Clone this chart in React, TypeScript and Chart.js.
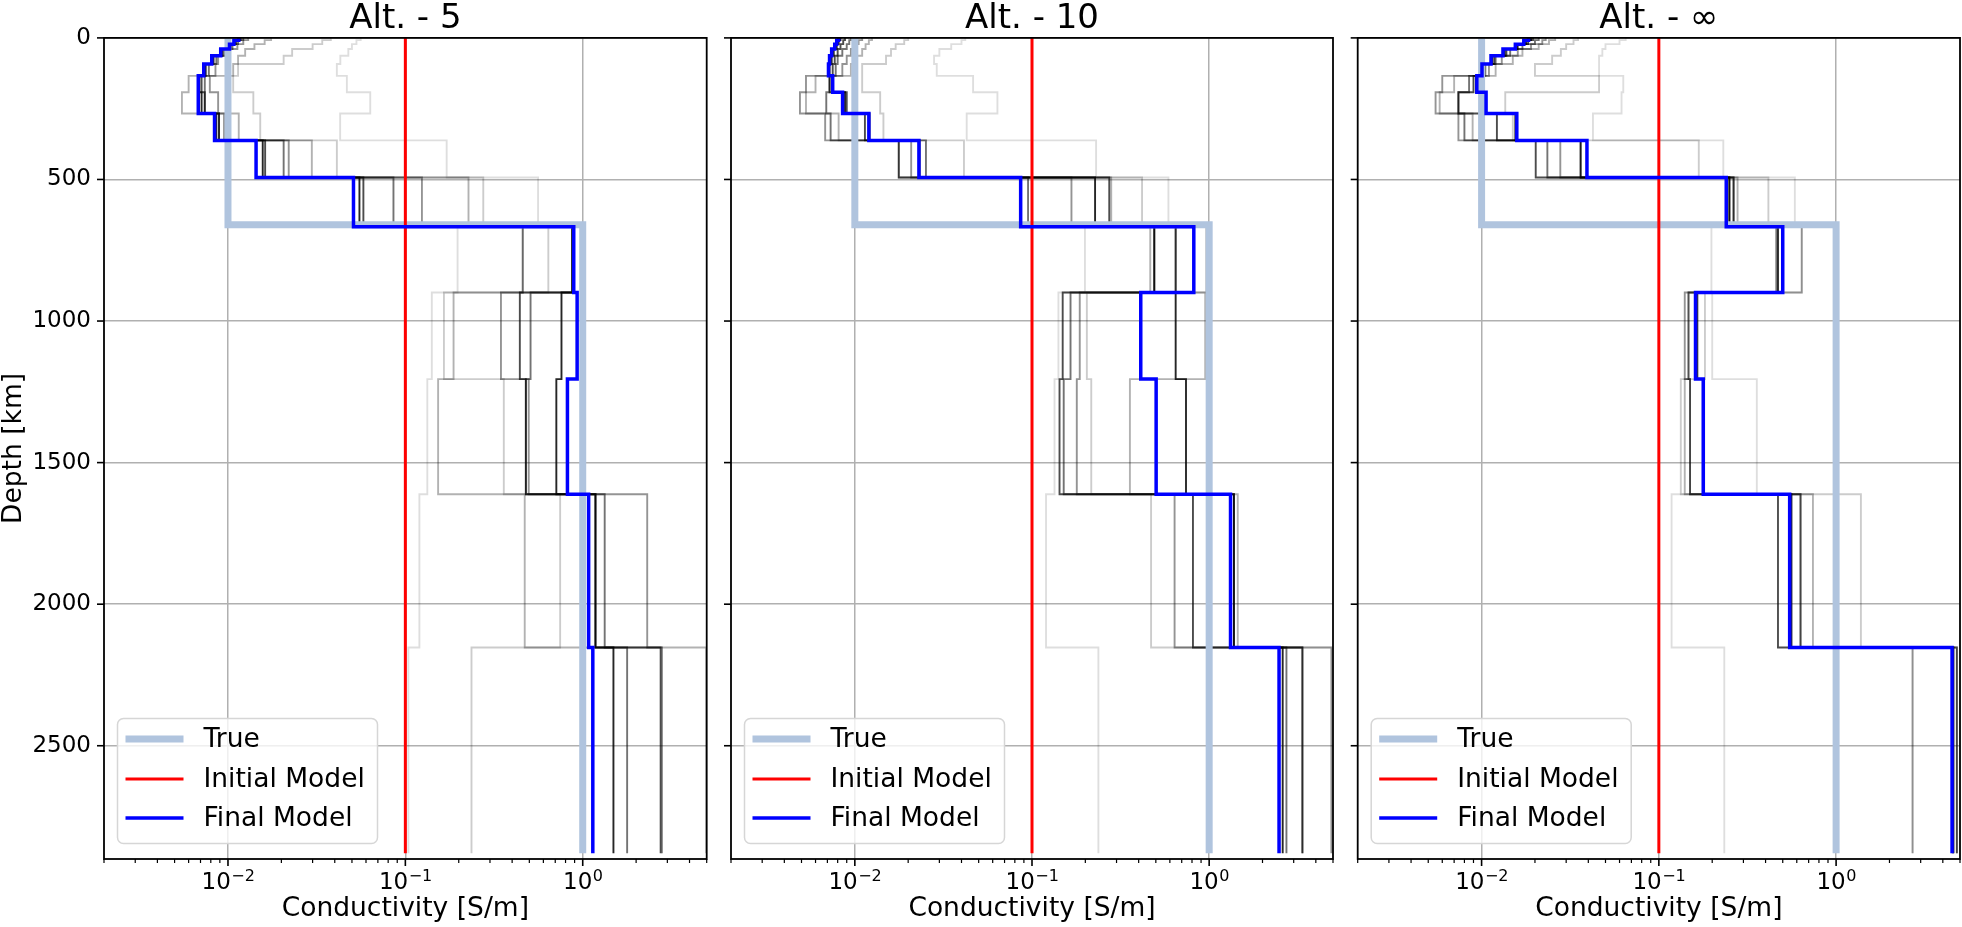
import React, { useEffect, useRef } from "react";
import { Chart, registerables } from "chart.js";

Chart.register(...registerables);

const FONT = '"DejaVu Sans", "Liberation Sans", sans-serif';

// ---------- data ----------
const DEPTHS = [0, 8, 22, 39, 63, 92, 134, 192, 267, 362, 493, 667, 899, 1205, 1612, 2153, 2880];
const TRUE_DEPTHS = [0, 660, 2880];
const TRUE_SIGMA = [0.01, 1.0];
const INITIAL_DEPTHS = [0, 2880];
const INITIAL_SIGMA = [0.1];

const TITLES = ["Alt. - 5", "Alt. - 10", "Alt. - \u221e"];
const LEGEND_LABELS = ["True", "Initial Model", "Final Model"];
const X_LABEL = "Conductivity [S/m]";
const Y_LABEL = "Depth [km]";

const X_MIN = 0.002;
const X_MAX = 5;
const Y_MIN = 0;
const Y_MAX = 2900;
const X_MAJOR = [0.01, 0.1, 1];
const X_MAJOR_BASE = ["10", "10", "10"];
const X_MAJOR_EXP = ["\u22122", "\u22121", "0"];
const X_MINOR = [0.002, 0.003, 0.004, 0.005, 0.006, 0.007, 0.008, 0.009,
  0.02, 0.03, 0.04, 0.05, 0.06, 0.07, 0.08, 0.09,
  0.2, 0.3, 0.4, 0.5, 0.6, 0.7, 0.8, 0.9, 2, 3, 4, 5];
const Y_TICKS = [0, 500, 1000, 1500, 2000, 2500];

const GRAY_ALPHAS = [0.13, 0.2, 0.3, 0.42, 0.55, 0.7, 0.85];

const ALT5_FINAL = [0.0115, 0.0108, 0.0102, 0.0091, 0.0081, 0.0073, 0.0068, 0.0068, 0.0084, 0.0144, 0.051, 0.89, 0.93, 0.82, 1.08, 1.14];
const ALT5_ITERS = [
  [0.056, 0.053, 0.05, 0.0477, 0.043, 0.0411, 0.0468, 0.0634, 0.0429, 0.171, 0.56, 0.197, 0.141, 0.133, 0.12, 0.104],
  [0.038, 0.034, 0.03, 0.023, 0.0206, 0.0114, 0.0107, 0.0139, 0.0152, 0.0411, 0.275, 0.64, 0.165, 0.359, 0.746, 0.236],
  [0.0175, 0.0161, 0.0141, 0.0125, 0.0114, 0.0107, 0.006, 0.0055, 0.0115, 0.0297, 0.227, 0.459, 0.187, 0.153, 0.471, 4.97],
  [0.013, 0.0122, 0.0113, 0.0098, 0.0088, 0.0085, 0.0079, 0.0088, 0.0095, 0.022, 0.124, 0.459, 0.346, 0.496, 2.31, 2.8],
  [0.0122, 0.0114, 0.0106, 0.0095, 0.0086, 0.0078, 0.0074, 0.0074, 0.0089, 0.0206, 0.0857, 0.871, 0.508, 0.478, 1.33, 1.78],
  [0.0118, 0.0111, 0.0104, 0.0093, 0.0083, 0.0075, 0.0071, 0.0074, 0.0089, 0.0162, 0.058, 0.871, 0.442, 0.478, 1.18, 2.75],
  [0.0116, 0.0109, 0.0103, 0.0092, 0.0082, 0.0074, 0.0069, 0.0071, 0.0086, 0.0157, 0.0551, 0.88, 0.759, 0.71, 1.18, 1.49],
];

const ALT10_FINAL = [0.0081, 0.0079, 0.0077, 0.0074, 0.0072, 0.0071, 0.0075, 0.00853, 0.012, 0.023, 0.0863, 0.819, 0.411, 0.502, 1.32, 2.48];
const ALT10_ITERS = [
  [0.042, 0.04, 0.035, 0.03, 0.028, 0.029, 0.0465, 0.0638, 0.0428, 0.23, 0.589, 0.199, 0.141, 0.134, 0.12, 0.237],
  [0.02, 0.019, 0.017, 0.016, 0.015, 0.011, 0.011, 0.0139, 0.0145, 0.0413, 0.418, 0.96, 0.204, 0.216, 0.47, 4.9],
  [0.0125, 0.012, 0.0115, 0.011, 0.01, 0.0095, 0.006, 0.0053, 0.0081, 0.0177, 0.28, 0.465, 0.95, 0.357, 1.45, 4.9],
  [0.011, 0.0105, 0.01, 0.0095, 0.009, 0.0085, 0.0053, 0.0049, 0.0068, 0.0208, 0.167, 0.647, 0.186, 0.179, 0.638, 3.36],
  [0.0095, 0.0093, 0.009, 0.0085, 0.008, 0.0078, 0.0072, 0.0069, 0.0073, 0.0252, 0.095, 0.49, 0.165, 0.151, 1.38, 2.73],
  [0.0088, 0.0086, 0.0083, 0.008, 0.0077, 0.0075, 0.0072, 0.009, 0.0114, 0.0177, 0.273, 0.647, 0.149, 0.143, 0.81, 3.36],
  [0.0083, 0.0081, 0.0079, 0.0076, 0.0074, 0.0072, 0.0075, 0.0088, 0.0121, 0.0232, 0.227, 0.49, 0.647, 0.74, 1.38, 2.6],
];

const ALTINF_FINAL = [0.0184, 0.0173, 0.0155, 0.0132, 0.0113, 0.01005, 0.0094, 0.0106, 0.0158, 0.0393, 0.24, 0.5, 0.161, 0.178, 0.547, 4.51];
const ALTINF_ITERS = [
  [0.065, 0.06, 0.05, 0.048, 0.046, 0.046, 0.063, 0.0616, 0.0425, 0.231, 0.585, 0.198, 0.2, 0.357, 0.118, 0.234],
  [0.035, 0.033, 0.03, 0.028, 0.025, 0.02, 0.046, 0.0136, 0.015, 0.168, 0.415, 0.64, 0.182, 0.133, 1.38, 2.7],
  [0.026, 0.024, 0.021, 0.017, 0.015, 0.012, 0.007, 0.0058, 0.0089, 0.0362, 0.278, 0.64, 0.147, 0.14, 0.74, 2.7],
  [0.023, 0.022, 0.019, 0.016, 0.013, 0.011, 0.006, 0.0055, 0.0074, 0.0278, 0.264, 0.47, 0.14, 0.15, 0.63, 4.8],
  [0.021, 0.02, 0.017, 0.0145, 0.012, 0.0105, 0.0085, 0.0074, 0.008, 0.0235, 0.25, 0.46, 0.147, 0.15, 0.63, 4.8],
  [0.0195, 0.0183, 0.016, 0.0138, 0.0118, 0.0103, 0.009, 0.0074, 0.0122, 0.0202, 0.264, 0.47, 0.165, 0.178, 0.47, 4.6],
  [0.019, 0.0178, 0.0158, 0.0135, 0.0115, 0.0102, 0.0093, 0.0104, 0.0155, 0.0362, 0.25, 0.5, 0.163, 0.18, 0.56, 4.55],
];

const FINALS = [ALT5_FINAL, ALT10_FINAL, ALTINF_FINAL];
const ITERS = [ALT5_ITERS, ALT10_ITERS, ALTINF_ITERS];

// ---------- layout (not data) ----------
const CANVAS_H = 927;
const LAYOUT = [
  { left: 0, width: 718, yAxisWidth: 104, padRight: 11.3, showY: true },
  { left: 718, width: 625, yAxisWidth: 13, padRight: 10, showY: false },
  { left: 1343, width: 619, yAxisWidth: 14.7, padRight: 2, showY: false },
];

function steps(depths: number[], values: number[]) {
  const pts: { x: number; y: number }[] = [];
  for (let i = 0; i < values.length; i++) {
    pts.push({ x: values[i], y: depths[i] });
    pts.push({ x: values[i], y: depths[i + 1] });
  }
  return pts;
}

const framePlugin = {
  id: "frameTicks",
  afterDatasetsDraw(chart: any) {
    const { ctx, chartArea, scales } = chart;
    const { left, right, top, bottom } = chartArea;
    const xs = scales.x;
    const ys = scales.y;
    ctx.save();
    ctx.strokeStyle = "#000";
    ctx.lineCap = "butt";
    ctx.lineWidth = 1.6;
    X_MAJOR.forEach((v) => {
      const p = xs.getPixelForValue(v);
      ctx.beginPath();
      ctx.moveTo(p, bottom);
      ctx.lineTo(p, bottom + 7);
      ctx.stroke();
    });
    Y_TICKS.forEach((v) => {
      const p = ys.getPixelForValue(v);
      ctx.beginPath();
      ctx.moveTo(left - 7, p);
      ctx.lineTo(left, p);
      ctx.stroke();
    });
    ctx.lineWidth = 1.2;
    X_MINOR.forEach((v) => {
      const p = xs.getPixelForValue(v);
      ctx.beginPath();
      ctx.moveTo(p, bottom);
      ctx.lineTo(p, bottom + 4);
      ctx.stroke();
    });
    ctx.lineWidth = 1.8;
    ctx.strokeRect(left, top, right - left, bottom - top);

    // x tick labels with real superscripts (10^k)
    ctx.fillStyle = "#000";
    ctx.textBaseline = "alphabetic";
    ctx.textAlign = "left";
    const baseFont = `23px ${FONT}`;
    const expFont = `16px ${FONT}`;
    X_MAJOR.forEach((v, i) => {
      const p = xs.getPixelForValue(v);
      ctx.font = baseFont;
      const wb = ctx.measureText(X_MAJOR_BASE[i]).width;
      ctx.font = expFont;
      const we = ctx.measureText(X_MAJOR_EXP[i]).width;
      const x0 = p - (wb + we) / 2;
      ctx.font = baseFont;
      ctx.fillText(X_MAJOR_BASE[i], x0, bottom + 30);
      ctx.font = expFont;
      ctx.fillText(X_MAJOR_EXP[i], x0 + wb + 0.5, bottom + 22);
    });
    ctx.restore();
  },
};

const legendPlugin = {
  id: "boxLegend",
  afterDraw(chart: any) {
    const { ctx, chartArea } = chart;
    const bx = chartArea.left + 13.5;
    const by = 718.5;
    const bw = 260;
    const bh = 125;
    ctx.save();
    ctx.beginPath();
    ctx.roundRect(bx, by, bw, bh, 6);
    ctx.fillStyle = "rgba(255,255,255,0.8)";
    ctx.fill();
    ctx.strokeStyle = "#d6d6d6";
    ctx.lineWidth = 1.5;
    ctx.stroke();
    const rows = [20.5, 60.5, 99.5];
    const ds = chart.data.datasets;
    for (let i = 0; i < 3; i++) {
      const d = ds[i === 0 ? 2 : i === 1 ? 1 : 0];
      const y = by + rows[i];
      ctx.beginPath();
      ctx.strokeStyle = d.borderColor;
      ctx.lineWidth = d.borderWidth;
      ctx.lineCap = "butt";
      ctx.moveTo(bx + 8, y);
      ctx.lineTo(bx + 66, y);
      ctx.stroke();
      ctx.fillStyle = "#000";
      ctx.font = `26.5px ${FONT}`;
      ctx.textBaseline = "middle";
      ctx.textAlign = "left";
      ctx.fillText(d.label, bx + 86, y + 1);
    }
    ctx.restore();
  },
};

function PanelChart({ index }: { index: number }) {
  const ref = useRef<HTMLCanvasElement>(null);
  const lay = LAYOUT[index];
  useEffect(() => {
    const grayDatasets = ITERS[index]
      .map((vals, k) => ({
        label: `iter ${k + 1}`,
        data: steps(DEPTHS, vals),
        borderColor: `rgba(0,0,0,${GRAY_ALPHAS[k]})`,
        borderWidth: 1.9,
        pointRadius: 0,
        fill: false,
        tension: 0,
        borderJoinStyle: "miter" as const,
      }))
      .reverse();
    const datasets: any[] = [
      {
        label: LEGEND_LABELS[2],
        data: steps(DEPTHS, FINALS[index]),
        borderColor: "#0000ff",
        borderWidth: 3.5,
        pointRadius: 0,
        fill: false,
        tension: 0,
        borderJoinStyle: "miter",
      },
      {
        label: LEGEND_LABELS[1],
        data: steps(INITIAL_DEPTHS, INITIAL_SIGMA),
        borderColor: "#ff0000",
        borderWidth: 3,
        pointRadius: 0,
        fill: false,
        tension: 0,
      },
      {
        label: LEGEND_LABELS[0],
        data: steps(TRUE_DEPTHS, TRUE_SIGMA),
        borderColor: "#b0c4de",
        borderWidth: 7,
        pointRadius: 0,
        fill: false,
        tension: 0,
        borderJoinStyle: "miter",
      },
      ...grayDatasets,
    ];
    const chart = new Chart(ref.current as HTMLCanvasElement, {
      type: "line",
      data: { datasets },
      plugins: [framePlugin, legendPlugin],
      options: {
        animation: false,
        responsive: false,
        maintainAspectRatio: false,
        devicePixelRatio: 1,
        events: [],
        layout: { padding: { left: 0, right: lay.padRight, top: 0, bottom: 0 } },
        plugins: {
          legend: { display: false },
          tooltip: { enabled: false },
          title: {
            display: true,
            text: TITLES[index],
            fullSize: false,
            color: "#000",
            font: { family: FONT, size: 34, weight: "normal", lineHeight: 1 },
            padding: { top: 2, bottom: 1.9 },
          },
        },
        scales: {
          x: {
            type: "logarithmic",
            position: "bottom",
            min: X_MIN,
            max: X_MAX,
            bounds: "data",
            afterBuildTicks: (s: any) => {
              s.ticks = X_MAJOR.map((v) => ({ value: v, major: true }));
            },
            afterFit: (s: any) => {
              s.height = CANVAS_H - 859;
            },
            grid: { color: "#b0b0b0", lineWidth: 1.5, drawTicks: false },
            border: { display: false },
            ticks: {
              display: false,
              autoSkip: false,
              maxRotation: 0,
              minRotation: 0,
            },
            title: {
              display: true,
              text: X_LABEL,
              color: "#000",
              font: { family: FONT, size: 26.5 },
              padding: { top: 0, bottom: 2 },
            },
          } as any,
          y: {
            type: "linear",
            reverse: true,
            min: Y_MIN,
            max: Y_MAX,
            bounds: "data",
            afterBuildTicks: (s: any) => {
              s.ticks = Y_TICKS.map((v) => ({ value: v }));
            },
            afterFit: (s: any) => {
              s.width = lay.yAxisWidth;
            },
            grid: { color: "#b0b0b0", lineWidth: 1.5, drawTicks: false },
            border: { display: false },
            ticks: {
              display: lay.showY,
              padding: 13,
              color: "#000",
              font: { family: FONT, size: 23 },
              callback: (v: any) => String(v),
            },
            title: {
              display: lay.showY,
              text: Y_LABEL,
              color: "#000",
              font: { family: FONT, size: 26.5, lineHeight: 1 },
              padding: { top: 1, bottom: 0 },
            },
          } as any,
        },
      } as any,
    });
    return () => chart.destroy();
  }, [index]);
  return (
    <canvas
      ref={ref}
      width={lay.width}
      height={CANVAS_H}
      style={{ position: "absolute", left: lay.left, top: 0, width: lay.width, height: CANVAS_H }}
    />
  );
}

export default function App() {
  return (
    <div
      style={{
        position: "absolute",
        left: 0,
        top: 0,
        width: 1962,
        height: CANVAS_H,
        background: "#fff",
        overflow: "hidden",
      }}
    >
      <PanelChart index={0} />
      <PanelChart index={1} />
      <PanelChart index={2} />
    </div>
  );
}
